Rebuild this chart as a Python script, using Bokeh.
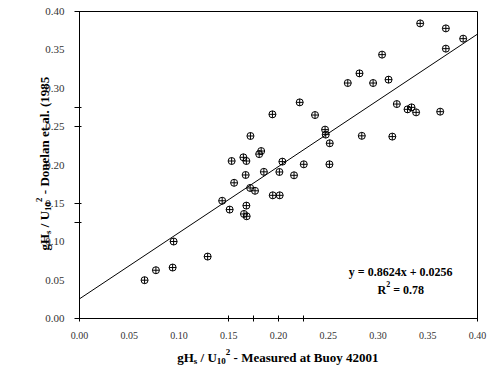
from bokeh.plotting import figure
from bokeh.models import Range1d, FixedTicker, Label, NumeralTickFormatter, LinearAxis
from bokeh.embed import file_html
from bokeh.resources import INLINE
import math

# ---- data ----
measured = [0.0654, 0.0768, 0.0936, 0.0946, 0.1288, 0.1434, 0.1509, 0.1554, 0.1529, 0.1647,
            0.1677, 0.1670, 0.1715, 0.1764, 0.1677, 0.1653, 0.1680, 0.1718, 0.1826, 0.1806,
            0.1853, 0.1939, 0.1942, 0.2012, 0.2009, 0.2039, 0.2156, 0.2254, 0.2213, 0.2367,
            0.2468, 0.2475, 0.2515, 0.2512, 0.2696, 0.2814, 0.2837, 0.2951, 0.3041, 0.3106,
            0.3144, 0.3189, 0.3297, 0.3337, 0.3383, 0.3424, 0.3625, 0.3682, 0.3682, 0.3856]
donelan = [0.0499, 0.0629, 0.0664, 0.1003, 0.0807, 0.1534, 0.1419, 0.1768, 0.2052, 0.2100,
           0.2052, 0.1870, 0.1701, 0.1664, 0.1471, 0.1362, 0.1332, 0.2378, 0.2182, 0.2142,
           0.1911, 0.2660, 0.1605, 0.1605, 0.1909, 0.2044, 0.1866, 0.2009, 0.2816, 0.2651,
           0.2461, 0.2396, 0.2283, 0.2009, 0.3068, 0.3194, 0.2380, 0.3068, 0.3438, 0.3112,
           0.2370, 0.2794, 0.2725, 0.2751, 0.2686, 0.3845, 0.2695, 0.3780, 0.3516, 0.3646]
slope = 0.8624
intercept = 0.0256
r_squared = 0.78
axis_min, axis_max = 0.0, 0.4
tick_values = [0.00, 0.05, 0.10, 0.15, 0.20, 0.25, 0.30, 0.35, 0.40]
x_mark_ticks = [0.00, 0.15, 0.175, 0.20, 0.225, 0.40]
y_mark_ticks = [0.00, 0.125, 0.15, 0.25, 0.275, 0.40]
fit_x = [0.0, 0.4]

# ---- layout (page px): plot box from x=79..477, y=11..318 ----
CW, CH = 491, 376
BL, BR, BT, BB = 79, 477, 11, 318
KX = (axis_max - axis_min) / (BR - BL)
KY = (axis_max - axis_min) / (BB - BT)

def dx(px):
    return axis_min + (px - BL) * KX

def dy(py):
    return axis_min + (BB - py) * KY

p = figure(frame_width=CW, frame_height=CH,
           x_range=Range1d(dx(0), dx(CW)), y_range=Range1d(dy(CH), dy(0)),
           min_border=0, output_backend="svg", toolbar_location=None,
           background_fill_color="white", border_fill_color="white")
p.grid.visible = False
p.outline_line_color = None

for ax, minors in ((p.xaxis, x_mark_ticks), (p.yaxis, y_mark_ticks)):
    ax.fixed_location = axis_min
    ax.bounds = (axis_min, axis_max)
    ax.ticker = FixedTicker(ticks=tick_values, minor_ticks=minors)
    ax.formatter = NumeralTickFormatter(format="0.00")
    ax.major_tick_in = 0
    ax.major_tick_out = 0
    ax.minor_tick_line_color = "black"
    ax.axis_line_color = "black"
    ax.major_label_text_font = "Liberation Serif"
    ax.major_label_text_color = "#333333"
    ax.major_label_standoff = 10
p.xaxis.major_label_text_font_size = "10px"
p.yaxis.major_label_text_font_size = "11px"
p.xaxis.minor_tick_in = 3
p.xaxis.minor_tick_out = 3
p.yaxis.minor_tick_in = 2
p.yaxis.minor_tick_out = 5

# top and right border of the plot box
for side in ("above", "right"):
    b = LinearAxis(fixed_location=axis_max, bounds=(axis_min, axis_max),
                   ticker=FixedTicker(ticks=[]), major_tick_in=0, major_tick_out=0,
                   minor_tick_in=0, minor_tick_out=0, axis_line_color="black")
    p.add_layout(b, side)

p.scatter(measured, donelan, marker="circle_cross", size=7, line_color="black",
          fill_color=None, line_width=1)
p.line(fit_x, [slope * v + intercept for v in fit_x], line_color="black", line_width=1)

W = {' ': 250, '(': 333, ')': 333, '.': 250, '/': 278, '-': 333, '=': 570, '+': 570,
     'B': 667, 'D': 722, 'H': 778, 'M': 944, 'R': 722, 'U': 722,
     'a': 500, 'd': 556, 'e': 444, 'g': 500, 'l': 278, 'n': 556, 'o': 500, 'r': 444,
     's': 389, 't': 333, 'u': 556, 'x': 500, 'y': 500}

def width(t, size):
    return sum(W.get(c, 500) for c in t) / 1000.0 * size

def run(pieces, start, base, vertical=False):
    pos = start
    step = -1 if vertical else 1
    for text, size, shift in pieces:
        core = text.strip(" ")
        lead = len(text) - len(text.lstrip(" "))
        pos += step * width(" " * lead, size)
        if vertical:
            lab = Label(x=dx(base + shift), y=dy(pos), text=core, angle=math.pi / 2)
        else:
            lab = Label(x=dx(pos), y=dy(base + shift), text=core)
        pos += step * width(text.lstrip(" "), size)
        lab.text_align = "left"
        lab.text_baseline = "alphabetic"
        lab.text_font = "Liberation Serif"
        lab.text_font_style = "bold"
        lab.text_font_size = f"{size}px"
        lab.text_color = "black"
        p.add_layout(lab)

def title_pieces(tail):
    return [("gH", 13, 0), ("s", 9, 3), (" / U", 13, 0), ("10", 9, 3), ("2", 9, -6), (tail, 13, 0)]

run(title_pieces(" - Measured at Buoy 42001"), 176.7, 357)
run(title_pieces(" - Donelan et al. (1985"), 250, 44, vertical=True)

eq = f"y = {slope}x + {intercept}"
run([(eq, 12, 0)], 452 - width(eq, 12), 271)
run([("R", 12, 0), ("2", 8, -6), (f" = {r_squared}", 12, 0)], 377, 289)

open("out.html", "w").write(file_html(p, INLINE))
